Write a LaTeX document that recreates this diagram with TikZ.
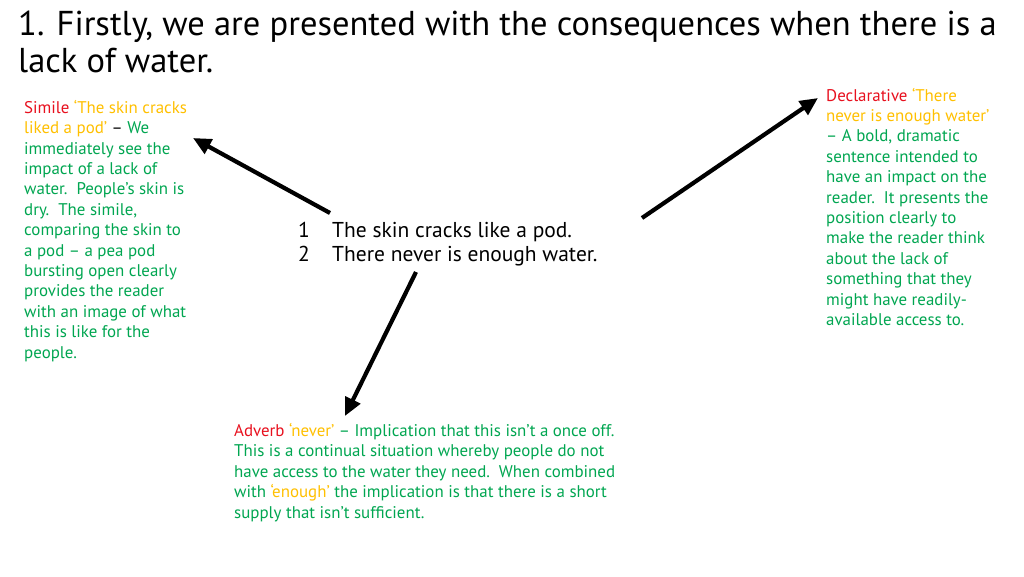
\documentclass[tikz,border=0pt]{standalone}
\usepackage{fontspec}
\setmainfont{PT Sans}
\usetikzlibrary{arrows.meta}
\definecolor{kred}{HTML}{E8101E}
\definecolor{kamb}{HTML}{FFC000}
\definecolor{kgrn}{HTML}{00A651}
\tikzset{
  note/.style={anchor=base west, inner sep=0pt, align=left, text=kgrn, font=\fontsize{16.9}{20.4}\selectfont},
  bigarrow/.style={line width=4.2pt, -{Triangle[length=18pt,width=16pt]}},
}
\begin{document}
\begin{tikzpicture}[x=1pt,y=-1pt]
\useasboundingbox[fill=white] (0,0) rectangle (1024,576);
% multi-line nodes: base anchor sits on the last line
\node[anchor=base west, inner sep=0pt, align=left, font=\fontsize{34.5}{37}\selectfont] (title) at (18,72)
  {1. Firstly, we are presented with the consequences when there is a\\lack of water.};
\node[anchor=base west, inner sep=0pt, align=left, font=\fontsize{21.5}{24}\selectfont] (center) at (298,261)
  {\makebox[34pt][l]{1}The skin cracks like a pod.\\\makebox[34pt][l]{2}There never is enough water.};
\node[note] (simile) at (24,358)
  {\textcolor{kred}{Simile} \textcolor{kamb}{‘The skin cracks}\\
   \textcolor{kamb}{liked a pod’} \textcolor{black}{–} We\\
   immediately see the\\
   impact of a lack of\\
   water.\ \ People’s skin is\\
   dry.\ \ The simile,\\
   comparing the skin to\\
   a pod – a pea pod\\
   bursting open clearly\\
   provides the reader\\
   with an image of what\\
   this is like for the\\
   people.};
\node[note] (decl) at (826,325.5)
  {\textcolor{kred}{Declarative} \textcolor{kamb}{‘There}\\
   \textcolor{kamb}{never is enough water’}\\
   – A bold, dramatic\\
   sentence intended to\\
   have an impact on the\\
   reader.\ \ It presents the\\
   position clearly to\\
   make the reader think\\
   about the lack of\\
   something that they\\
   might have readily-\\
   available access to.};
\node[note] (adverb) at (234,518)
  {\textcolor{kred}{Adverb} \textcolor{kamb}{‘never’} – Implication that this isn’t a once off.\\
   This is a continual situation whereby people do not\\
   have access to the water they need.\ \ When combined\\
   with \textcolor{kamb}{‘enough’} the implication is that there is a short\\
   supply that isn’t sufficient.};
\coordinate (a1s) at (330,213);
\coordinate (a1e) at (193,138);
\coordinate (a2s) at (642,218);
\coordinate (a2e) at (818,98);
\coordinate (a3s) at (416,272);
\coordinate (a3e) at (345,416);
\draw[bigarrow] (a1s) -- (a1e);
\draw[bigarrow] (a2s) -- (a2e);
\draw[bigarrow] (a3s) -- (a3e);
\end{tikzpicture}
\end{document}
